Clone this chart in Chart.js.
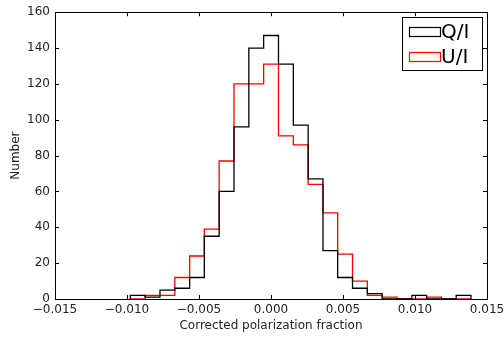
<!DOCTYPE html>
<html>
<head>
<meta charset="utf-8">
<script src="https://cdn.jsdelivr.net/npm/chart.js@4/dist/chart.umd.min.js"></script>
<style>
  html, body { margin: 0; padding: 0; background: #fff; }
  #wrap { width: 504px; height: 340px; }
</style>
</head>
<body>
<div id="wrap"><canvas id="chart" width="504" height="340"></canvas></div>
<script>
'use strict';
//histogram bin edges (shared by both series)
let binEdges = [-0.00977, -0.00874, -0.00771, -0.00668, -0.00565, -0.00463, -0.00360, -0.00257,
  -0.00154, -0.00051, 0.00052, 0.00155, 0.00258, 0.00361, 0.00463, 0.00566,
  0.00669, 0.00772, 0.00875, 0.00978, 0.01081, 0.01184, 0.01286, 0.01389];
//counts per bin
let qCounts = [2, 1, 5, 6, 12, 35, 60, 96, 140, 147, 131, 97, 67, 27, 12, 6, 3, 0, 0, 2, 0, 0, 2];
let uCounts = [0, 2, 2, 12, 24, 39, 77, 120, 120, 131, 91, 86, 64, 48, 25, 10, 2, 1, 0, 0, 1, 0, 0];
let seriesNames = ['Q/I', 'U/I'];
let seriesColors = ['#000000', '#ff0000'];
//axis ticks
let xTicks = [-0.015, -0.010, -0.005, 0.000, 0.005, 0.010, 0.015];
let yTicks = [0, 20, 40, 60, 80, 100, 120, 140, 160];

let fontFamily = '"DejaVu Sans", sans-serif';

//turn counts into step outline points
function stepPoints(counts){
  let pts = [{x: binEdges[0], y: 0}];
  for (let i = 0; i < counts.length; i++){
    pts.push({x: binEdges[i], y: counts[i]});
  }
  pts.push({x: binEdges[binEdges.length - 1], y: 0});
  return pts;
}

function fmtX(v){
  if (Math.abs(v) < 1e-9) return '0.000';
  let s = Math.abs(v).toFixed(3);
  return v < 0 ? '\u2212' + s : s;
}

//frame, inward ticks and legend box like matplotlib
let framePlugin = {
  id: 'frame',
  afterDraw(chart){
    let ctx = chart.ctx;
    let a = chart.chartArea;
    let xs = chart.scales.x;
    let ys = chart.scales.y;
    ctx.save();
    ctx.strokeStyle = '#000';
    ctx.lineWidth = 1;
    ctx.strokeRect(Math.round(a.left) + 0.5, Math.round(a.top) + 0.5,
      Math.round(a.right - a.left), Math.round(a.bottom - a.top));
    let tl = 4;
    ctx.beginPath();
    for (let i = 0; i < xTicks.length; i++){
      let px = Math.round(xs.getPixelForValue(xTicks[i])) + 0.5;
      ctx.moveTo(px, a.bottom); ctx.lineTo(px, a.bottom - tl);
      ctx.moveTo(px, a.top); ctx.lineTo(px, a.top + tl);
    }
    for (let i = 0; i < yTicks.length; i++){
      let py = Math.round(ys.getPixelForValue(yTicks[i])) + 0.5;
      ctx.moveTo(a.left, py); ctx.lineTo(a.left + tl, py);
      ctx.moveTo(a.right, py); ctx.lineTo(a.right - tl, py);
    }
    ctx.stroke();

    //legend
    let lx = 402.5, ly = 17.5, lw = 80, lh = 53;
    ctx.fillStyle = '#fff';
    ctx.fillRect(lx, ly, lw, lh);
    ctx.strokeStyle = '#000';
    ctx.strokeRect(lx, ly, lw, lh);
    ctx.font = '20px ' + fontFamily;
    ctx.textBaseline = 'middle';
    ctx.textAlign = 'left';
    let rows = [32, 57];
    chart.data.datasets.forEach(function(ds, i){
      ctx.strokeStyle = ds.borderColor;
      ctx.lineWidth = 1.2;
      ctx.strokeRect(409.5, rows[i] - 4.5, 31, 9);
      ctx.fillStyle = '#000';
      ctx.fillText(ds.label, 441, rows[i] + 1);
    });
    ctx.restore();
  }
};

let datasets = [qCounts, uCounts].map(function(counts, i){
  return {
    label: seriesNames[i],
    data: stepPoints(counts),
    borderColor: seriesColors[i],
    backgroundColor: seriesColors[i],
    borderWidth: 1.3,
    pointRadius: 0,
    fill: false,
    stepped: 'before',
    tension: 0
  };
});

let ctx = document.getElementById('chart').getContext('2d');
new Chart(ctx, {
  type: 'line',
  data: { datasets: datasets },
  options: {
    responsive: false,
    animation: false,
    layout: { padding: { left: 0, right: 17, top: 11, bottom: 0 } },
    plugins: { legend: { display: false }, tooltip: { enabled: false } },
    scales: {
      x: {
        type: 'linear',
        min: -0.015,
        max: 0.015,
        afterBuildTicks(scale){ scale.ticks = xTicks.map(function(v){ return {value: v}; }); },
        afterFit(scale){ scale.height = 41; scale.paddingLeft = 0; scale.paddingRight = 0; },
        grid: { display: false, drawTicks: false, tickLength: 0 },
        border: { display: false },
        ticks: {
          color: '#222',
          padding: 4,
          maxRotation: 0,
          autoSkip: false,
          font: { family: fontFamily, size: 12 },
          callback: function(v){ return fmtX(v); }
        },
        title: {
          display: true,
          text: 'Corrected polarization fraction',
          color: '#222',
          font: { family: fontFamily, size: 12 },
          padding: { top: 0, bottom: 7 }
        }
      },
      y: {
        min: 0,
        max: 160,
        afterBuildTicks(scale){ scale.ticks = yTicks.map(function(v){ return {value: v}; }); },
        afterFit(scale){ scale.width = 55; },
        grid: { display: false, drawTicks: false, tickLength: 0 },
        border: { display: false },
        ticks: {
          color: '#222',
          padding: 5,
          font: { family: fontFamily, size: 12 }
        },
        title: {
          display: true,
          text: 'Number',
          color: '#222',
          font: { family: fontFamily, size: 12 },
          padding: { top: 9, bottom: 0 }
        }
      }
    }
  },
  plugins: [framePlugin]
});
</script>
</body>
</html>
